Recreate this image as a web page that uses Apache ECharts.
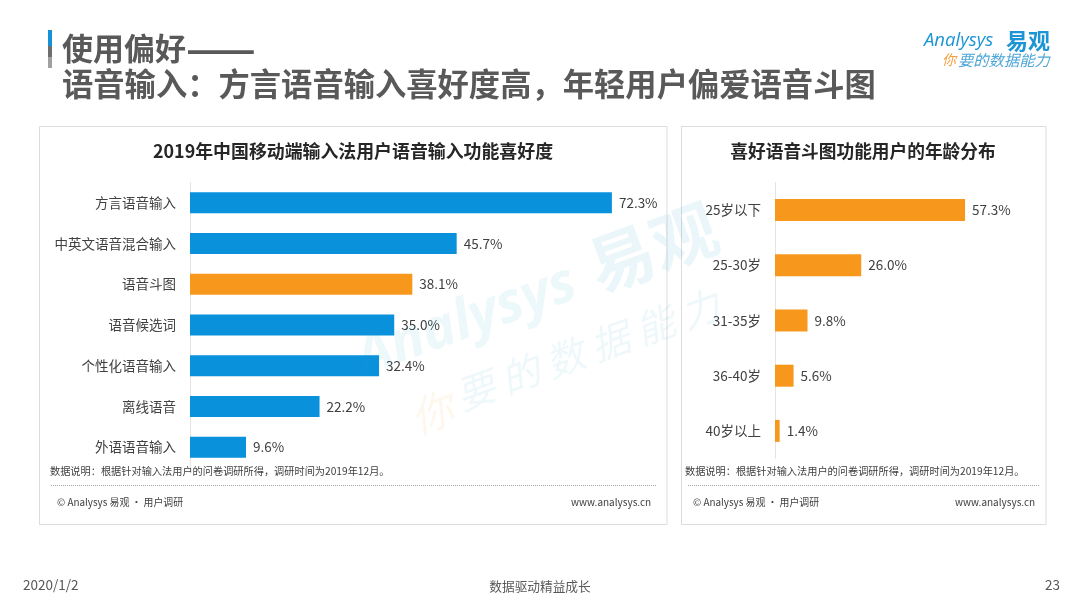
<!DOCTYPE html>
<html>
<head>
<meta charset="utf-8">
<style>
html, body { margin: 0; padding: 0; background: #fff; }
#mainChart { width: 1080px; height: 608px; }
</style>
<script src="https://cdn.jsdelivr.net/npm/echarts@6/dist/echarts.min.js"></script>
</head>
<body>
<div id="mainChart"></div>
<script>
var FONT = '"Noto Sans CJK SC", "Noto Sans", sans-serif';
var BLUE = '#0a91dc', ORANGE = '#f7981d', TEXT = '#404040';

// left panel: voice input preferences
var prefs = [
    { name: '方言语音输入', value: 72.3 },
    { name: '中英文语音混合输入', value: 45.7 },
    { name: '语音斗图', value: 38.1, color: ORANGE },
    { name: '语音候选词', value: 35.0 },
    { name: '个性化语音输入', value: 32.4 },
    { name: '离线语音', value: 22.2 },
    { name: '外语语音输入', value: 9.6 }
];
// right panel: age distribution
var ages = [
    { name: '25岁以下', value: 57.3 },
    { name: '25-30岁', value: 26.0 },
    { name: '31-35岁', value: 9.8 },
    { name: '36-40岁', value: 5.6 },
    { name: '40岁以上', value: 1.4 }
];

var note = '数据说明：根据针对输入法用户的问卷调研所得，调研时间为2019年12月。';

function txt(x, y, text, size, color, extra) {
    return {
        type: 'text', x: x, y: y, z: 5,
        style: Object.assign({
            text: text, fontSize: size, fill: color, fontFamily: FONT,
            verticalAlign: 'middle'
        }, extra || {})
    };
}

function panel(x, y, w, h) {
    return {
        type: 'rect', z: 0,
        shape: { x: x + 0.5, y: y + 0.5, width: w, height: h },
        style: { fill: '#fff', stroke: '#dcdcdc', lineWidth: 1 }
    };
}

function dotted(x1, x2, y) {
    return {
        type: 'line', z: 5,
        shape: { x1: x1, y1: y, x2: x2, y2: y },
        style: { stroke: '#a6a6a6', lineWidth: 1, lineDash: [1, 1] }
    };
}

function axisPair(idx, data, max) {
    return {
        x: { type: 'value', gridIndex: idx, min: 0, max: max, show: false },
        y: {
            type: 'category', gridIndex: idx, inverse: true,
            data: data.map(d => d.name),
            axisLine: { show: true, lineStyle: { color: '#e4e4e4' } },
            axisTick: { show: false },
            axisLabel: { color: TEXT, fontSize: 13.5, fontFamily: FONT, margin: 14 }
        }
    };
}

function barSeries(idx, data, color, width) {
    return {
        type: 'bar', xAxisIndex: idx, yAxisIndex: idx, barWidth: width, z: 3,
        data: data.map(d => ({ value: d.value, itemStyle: { color: d.color || color } })),
        label: {
            show: true, position: 'right', distance: 7,
            formatter: p => p.value.toFixed(1) + '%',
            color: TEXT, fontSize: 13.5, fontFamily: FONT
        }
    };
}

var left = axisPair(0, prefs, 85);
var right = axisPair(1, ages, 60);

var graphics = [
    panel(39, 126, 627.5, 398),
    panel(681, 126, 364.5, 398),

    // heading bar
    { type: 'rect', z: 5, shape: { x: 48, y: 30, width: 4, height: 16 }, style: { fill: '#1591d8' } },
    { type: 'rect', z: 5, shape: { x: 48, y: 46, width: 4, height: 11 }, style: { fill: '#6e6e6e' } },
    { type: 'rect', z: 5, shape: { x: 48, y: 57, width: 4, height: 11 }, style: { fill: '#a0a0a0' } },
    {
        type: 'text', x: 62, y: 48, z: 5,
        style: {
            text: '{a|使用偏好}{b|——}', fill: '#595959', verticalAlign: 'middle',
            rich: {
                a: { fontSize: 31, fontWeight: 'bold', fontFamily: FONT, fill: '#595959' },
                b: { fontSize: 41, fontWeight: 'bold', fontFamily: FONT, fill: '#595959' }
            }
        }
    },
    txt(62, 84, '语音输入：方言语音输入喜好度高，年轻用户偏爱语音斗图', 31.3, '#595959', { fontWeight: 'bold' }),

    // logo
    txt(924, 41, 'Analysys', 18.5, '#1b95d6', { fontStyle: 'italic', fontFamily: '"Open Sans", sans-serif' }),
    txt(1006, 41, '易观', 22, '#1b95d6', { fontWeight: 'bold' }),
    txt(942, 60, '你', 14, '#f0a040', { fontStyle: 'italic' }),
    txt(958, 60, '要的数据能力', 15.3, '#4fa6d8', { fontStyle: 'italic' }),

    // panel titles
    txt(353, 151, '2019年中国移动端输入法用户语音输入功能喜好度', 17.9, '#262626', { fontWeight: 'bold', align: 'center' }),
    txt(863, 151, '喜好语音斗图功能用户的年龄分布', 17.7, '#262626', { fontWeight: 'bold', align: 'center' }),

    // notes and footers
    txt(50, 471, note, 10.2, '#404040'),
    dotted(51, 657, 485.5),
    txt(57, 502, '© Analysys 易观 · 用户调研', 9.9, '#404040'),
    txt(571, 502, 'www.analysys.cn', 10, '#404040'),
    txt(685, 471, note, 10.2, '#404040'),
    dotted(688, 1039, 485.5),
    txt(693, 502, '© Analysys 易观 · 用户调研', 9.9, '#404040'),
    txt(955, 502, 'www.analysys.cn', 10, '#404040'),

    // page footer
    txt(23, 585, '2020/1/2', 13.5, '#595959'),
    txt(540, 586, '数据驱动精益成长', 12.7, '#595959', { align: 'center' }),
    txt(1045, 585, '23', 13.5, '#595959'),

    // watermark
    {
        type: 'group', x: 540, y: 318, rotation: 20 * Math.PI / 180, z: 6, silent: true,
        children: [
            txt(-185, -22, 'Analysys', 56, 'rgba(20,160,205,0.08)', { fontWeight: 'bold', fontStyle: 'italic', fontFamily: '"Open Sans", sans-serif' }),
            txt(64, -28, '易观', 66, 'rgba(20,160,205,0.09)', { fontWeight: 'bold' }),
            txt(-155, 52, '你', 42, 'rgba(240,170,64,0.09)', { fontStyle: 'italic' }),
            txt(-105, 46, '要 的 数 据 能 力', 39, 'rgba(20,160,205,0.07)', { fontStyle: 'italic' })
        ]
    }
];

var myChart = echarts.init(document.getElementById('mainChart'), null, { renderer: 'canvas' });

myChart.setOption({
    animation: false,
    backgroundColor: '#fff',
    textStyle: { fontFamily: FONT },
    grid: [
        { left: 190, top: 182.5, width: 496, height: 285 },
        { left: 775, top: 182.5, width: 199, height: 276 }
    ],
    xAxis: [left.x, right.x],
    yAxis: [left.y, right.y],
    series: [barSeries(0, prefs, BLUE, 21), barSeries(1, ages, ORANGE, 22)],
    graphic: { elements: graphics }
});
</script>
</body>
</html>
